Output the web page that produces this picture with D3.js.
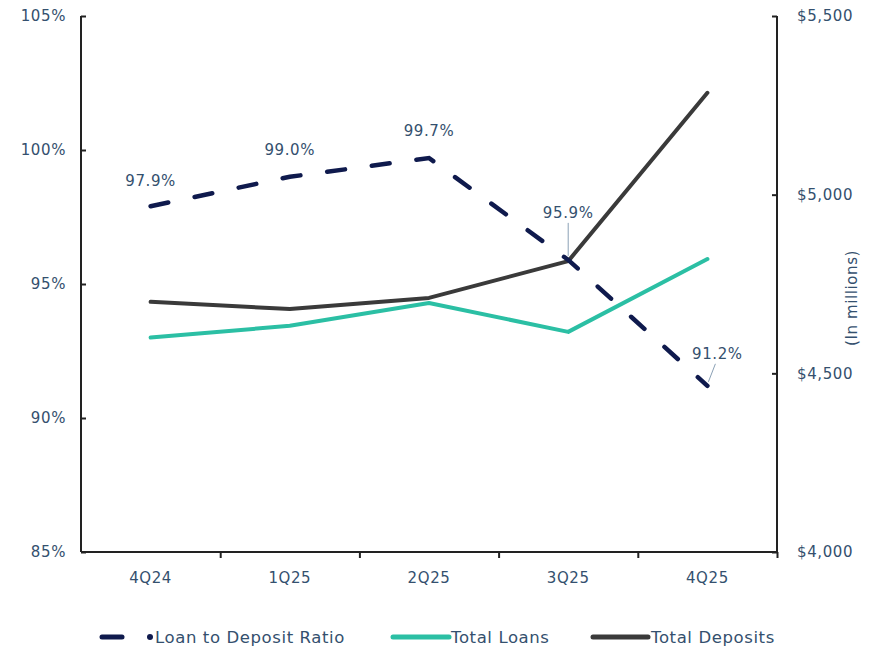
<!DOCTYPE html>
<html><head><meta charset="utf-8">
<script src="https://cdn.jsdelivr.net/npm/d3@7"></script>
<style>body{margin:0;background:#fff;} text{font-family:"DejaVu Sans",Verdana,sans-serif;letter-spacing:0.6px;}</style>
</head><body>
<svg id="c" width="880" height="653"></svg>
<script>
const categories = ["4Q24","1Q25","2Q25","3Q25","4Q25"];
const ltdRatio = [97.9, 99.0, 99.7, 95.9, 91.2];
const totalLoans = [4600, 4633, 4697, 4616, 4820];
const totalDeposits = [4700, 4680, 4711, 4814, 5285];
const leftTicks = [85, 90, 95, 100, 105];
const rightTicks = [4000, 4500, 5000, 5500];

const svg = d3.select("#c");
const L = 81, R = 777, T = 16, B = 552;
const textCol = "#34506e", axisCol = "#222";
const fs = 15;
const x = d3.scaleBand().domain(categories).range([L, R]);
const yL = d3.scaleLinear().domain([85, 105]).range([B, T]);
const yR = d3.scaleLinear().domain([4000, 5500]).range([B, T]);
const cx = d => x(d) + x.bandwidth() / 2;

// left axis
const gl = svg.append("g").attr("transform", `translate(${L},0)`)
  .call(d3.axisRight(yL).tickValues(leftTicks).tickSize(5).tickFormat(""));
gl.select(".domain").attr("d", `M0,${T}V${B}`);
gl.selectAll("line,path").attr("stroke", axisCol).attr("stroke-width", 2);
svg.append("g").selectAll("text").data(leftTicks).join("text")
  .attr("x", 66).attr("y", d => yL(d)).attr("dy", "0.35em").attr("text-anchor", "end")
  .attr("fill", textCol).attr("font-size", fs).text(d => d + "%");

// right axis
const gr = svg.append("g").attr("transform", `translate(${R},0)`)
  .call(d3.axisLeft(yR).tickValues(rightTicks).tickSize(5).tickFormat(""));
gr.select(".domain").attr("d", `M0,${T}V${B}`);
gr.selectAll("line,path").attr("stroke", axisCol).attr("stroke-width", 2);
svg.append("g").selectAll("text").data(rightTicks).join("text")
  .attr("x", 797).attr("y", d => yR(d)).attr("dy", "0.35em").attr("text-anchor", "start")
  .attr("fill", textCol).attr("font-size", fs).text(d => "$" + d3.format(",")(d));
svg.append("text").attr("transform", "translate(852,298) rotate(-90)")
  .attr("text-anchor", "middle").attr("dy", "0.35em").attr("fill", textCol).attr("font-size", fs)
  .text("(In millions)");

// x axis
const xb = d3.scaleLinear().domain([0, categories.length]).range([L, R]);
const gx = svg.append("g").attr("transform", `translate(0,${B})`)
  .call(d3.axisBottom(xb).tickValues(d3.range(1, categories.length + 1)).tickSize(6).tickFormat(""));
gx.select(".domain").attr("d", `M${L},0H${R}`);
gx.selectAll("line,path").attr("stroke", axisCol).attr("stroke-width", 2);
svg.append("g").selectAll("text").data(categories).join("text")
  .attr("x", d => cx(d)).attr("y", 583).attr("text-anchor", "middle")
  .attr("fill", textCol).attr("font-size", fs).text(d => d);

// lines
const lineL = d3.line().x((d, i) => cx(categories[i])).y(d => yL(d));
const lineR = d3.line().x((d, i) => cx(categories[i])).y(d => yR(d));
svg.append("path").attr("d", lineR(totalLoans)).attr("fill", "none")
  .attr("stroke", "#2bbfa4").attr("stroke-width", 4).attr("stroke-linejoin", "round").attr("stroke-linecap", "round");
svg.append("path").attr("d", lineR(totalDeposits)).attr("fill", "none")
  .attr("stroke", "#3a3a3a").attr("stroke-width", 4).attr("stroke-linejoin", "round").attr("stroke-linecap", "round");
svg.append("path").attr("d", lineL(ltdRatio)).attr("fill", "none")
  .attr("stroke", "#0f1a4d").attr("stroke-width", 4.5).attr("stroke-dasharray", "18,27")
  .attr("stroke-linecap", "round");

// labels
const lblOff = [[0, -20], [0, -22], [0, -22], [0, -42], [10, -27]];
ltdRatio.forEach((v, i) => {
  const px = cx(categories[i]), py = yL(v);
  const [dx, dy] = lblOff[i];
  svg.append("text").attr("x", px + dx).attr("y", py + dy).attr("text-anchor", "middle")
    .attr("fill", textCol).attr("font-size", fs).text(d3.format(".1f")(v) + "%");
  if (i === 3) {
    svg.append("line").attr("x1", px).attr("x2", px).attr("y1", py - 37).attr("y2", py - 4)
      .attr("stroke", "#8aa0b5").attr("stroke-width", 1);
  }
  if (i === 4) {
    svg.append("line").attr("x1", px + 8).attr("x2", px + 1).attr("y1", py - 22).attr("y2", py - 4)
      .attr("stroke", "#8aa0b5").attr("stroke-width", 1);
  }
});

// legend
const ly = 637, lfs = 16.5;
const lg = svg.append("g").style("letter-spacing", "0px");
lg.append("line").attr("x1", 102).attr("x2", 122).attr("y1", ly).attr("y2", ly)
  .attr("stroke", "#0f1a4d").attr("stroke-width", 5).attr("stroke-linecap", "round");
lg.append("circle").attr("cx", 150).attr("cy", ly).attr("r", 3).attr("fill", "#0f1a4d");
lg.append("text").attr("x", 155).attr("y", ly).attr("dy", "0.35em").attr("fill", textCol).attr("font-size", lfs).text("Loan to Deposit Ratio");
lg.append("line").attr("x1", 393).attr("x2", 449).attr("y1", ly).attr("y2", ly)
  .attr("stroke", "#2bbfa4").attr("stroke-width", 5).attr("stroke-linecap", "round");
lg.append("text").attr("x", 451).attr("y", ly).attr("dy", "0.35em").attr("fill", textCol).attr("font-size", lfs).text("Total Loans");
lg.append("line").attr("x1", 593).attr("x2", 648).attr("y1", ly).attr("y2", ly)
  .attr("stroke", "#3a3a3a").attr("stroke-width", 5).attr("stroke-linecap", "round");
lg.append("text").attr("x", 651).attr("y", ly).attr("dy", "0.35em").attr("fill", textCol).attr("font-size", lfs).text("Total Deposits");
</script>
</body></html>
